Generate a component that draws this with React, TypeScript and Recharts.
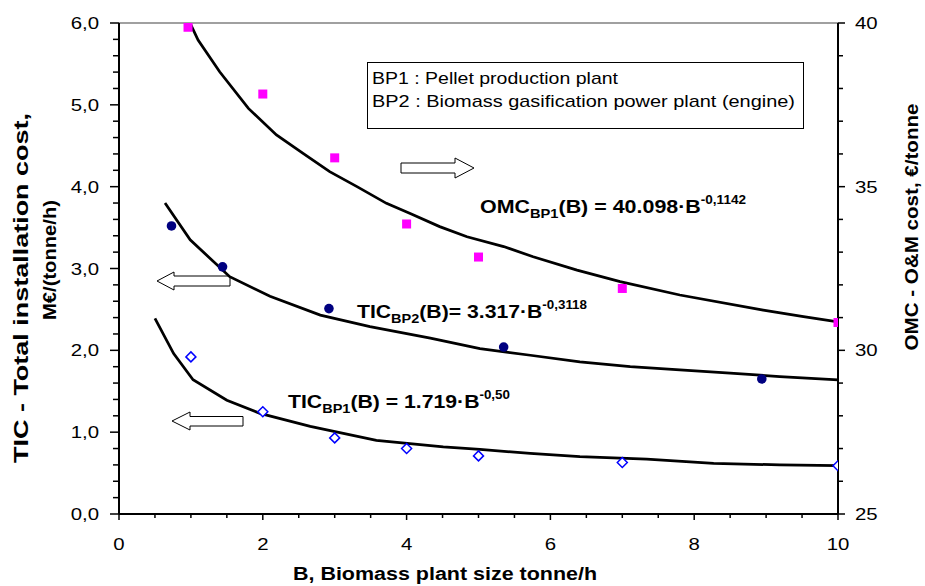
import React from "react";
import { ComposedChart, Line, Scatter, XAxis, YAxis, ReferenceLine } from "recharts";

// measured points (B in tonne/h)
const pelletSizes = [0.96, 2, 3, 4, 5, 7, 10];
const pelletOmc = [39.87, 37.83, 35.88, 33.86, 32.85, 31.89, 30.85];
const pelletTicSizes = [1, 2, 3, 4, 5, 7, 10];
const pelletTic = [1.92, 1.25, 0.93, 0.8, 0.71, 0.63, 0.59];
const gasifSizes = [0.73, 1.44, 2.92, 5.35, 8.94];
const gasifTic = [3.52, 3.02, 2.51, 2.04, 1.65];

// fitted curves
const omcFitB = [0.99, 1.1, 1.4, 1.8, 2.19, 2.56, 2.93, 3.31, 3.72, 4.05, 4.46, 4.84, 5.35, 5.76, 6.37, 6.97, 7.8, 8.96, 9.52, 10];
const omcFitV = [39.99, 39.48, 38.51, 37.39, 36.58, 36.02, 35.46, 35.0, 34.49, 34.18, 33.78, 33.47, 33.17, 32.86, 32.45, 32.1, 31.69, 31.23, 31.03, 30.87];
const gasifFitB = [0.64, 0.99, 1.54, 2.1, 2.8, 3.49, 4.33, 5.02, 5.72, 6.41, 7.11, 7.8, 8.5, 9.19, 10];
const gasifFitV = [3.8, 3.35, 2.9, 2.66, 2.43, 2.29, 2.15, 2.02, 1.94, 1.86, 1.8, 1.76, 1.72, 1.68, 1.64];
const pelletFitB = [0.5, 0.76, 1.03, 1.5, 1.96, 2.66, 3.58, 4.51, 5.02, 5.72, 6.41, 7.34, 8.27, 9.19, 10];
const pelletFitV = [2.39, 1.96, 1.64, 1.39, 1.23, 1.07, 0.9, 0.82, 0.79, 0.74, 0.7, 0.67, 0.62, 0.6, 0.59];

const xTicks = [0, 0.5, 1, 1.5, 2, 2.5, 3, 3.5, 4, 4.5, 5, 5.5, 6, 6.5, 7, 7.5, 8, 8.5, 9, 9.5, 10];
const leftTicks = [0, 0.2, 0.4, 0.6, 0.8, 1, 1.2, 1.4, 1.6, 1.8, 2, 2.2, 2.4, 2.6, 2.8, 3, 3.2, 3.4, 3.6, 3.8, 4, 4.2, 4.4, 4.6, 4.8, 5, 5.2, 5.4, 5.6, 5.8, 6];
const rightTicks = [25, 26, 27, 28, 29, 30, 31, 32, 33, 34, 35, 36, 37, 38, 39, 40];

const toPoints = (xs: number[], ys: number[]) => xs.map((x, i) => ({ x, y: ys[i] }));

const FONT = "'Liberation Sans', Arial, sans-serif";
const isMult = (v: number, m: number) => Math.abs(v / m - Math.round(v / m)) < 1e-6;

function XTick(props: any) {
  const { x, y, payload } = props;
  const v = payload.value;
  const major = isMult(v, 2);
  return (
    <g>
      <line x1={x} x2={x} y1={y} y2={y + (major ? 6 : 4)} stroke="#000" strokeWidth={1.5} />
      {major && (
        <text transform={`translate(${x},${y + 36}) scale(1.2,1)`} textAnchor="middle" fontFamily={FONT} fontSize={17} fill="#000">
          {v}
        </text>
      )}
    </g>
  );
}

function LeftTick(props: any) {
  const { x, y, payload } = props;
  const v = payload.value;
  const major = isMult(v, 1);
  return (
    <g>
      <line x1={x - (major ? 9 : 6)} x2={x} y1={y} y2={y} stroke="#000" strokeWidth={1.5} />
      {major && (
        <text transform={`translate(${x - 20},${y + 6}) scale(1.2,1)`} textAnchor="end" fontFamily={FONT} fontSize={17} fill="#000">
          {v.toFixed(1).replace(".", ",")}
        </text>
      )}
    </g>
  );
}

function RightTick(props: any) {
  const { x, y, payload } = props;
  const v = payload.value;
  const major = isMult(v, 5);
  return (
    <g>
      <line x1={x} x2={x + (major ? 7 : 5)} y1={y} y2={y} stroke="#000" strokeWidth={1.5} />
      {major && (
        <text transform={`translate(${x + 17},${y + 6}) scale(1.2,1)`} textAnchor="start" fontFamily={FONT} fontSize={17} fill="#000">
          {v}
        </text>
      )}
    </g>
  );
}

const squareShape = (p: any) => <rect x={p.cx - 4.5} y={p.cy - 4.5} width={9} height={9} fill="#FF00FF" />;
const circleShape = (p: any) => <circle cx={p.cx} cy={p.cy} r={4.8} fill="#000080" />;
const diamondShape = (p: any) => (
  <polygon
    points={`${p.cx},${p.cy - 5} ${p.cx + 5},${p.cy} ${p.cx},${p.cy + 5} ${p.cx - 5},${p.cy}`}
    fill="#fff"
    stroke="#0000FF"
    strokeWidth={1.5}
  />
);

function Annotations() {
  const bold = { fontFamily: FONT, fontWeight: 700, fill: "#000" } as const;
  const reg = { fontFamily: FONT, fill: "#000" } as const;
  return (
    <svg width={925} height={586} style={{ position: "absolute", left: 0, top: 0 }}>
      {/* legend box */}
      <rect x={367.5} y={62.5} width={436} height={66} fill="#fff" stroke="#000" strokeWidth={1} />
      <text x={372} y={84} fontSize={17} textLength={246} lengthAdjust="spacingAndGlyphs" {...reg}>
        BP1 : Pellet production plant
      </text>
      <text x={372} y={107} fontSize={17} textLength={423} lengthAdjust="spacingAndGlyphs" {...reg}>
        BP2 : Biomass gasification power plant (engine)
      </text>

      {/* arrows */}
      <polygon points="401,163 455,163 455,158 474,168 455,178 455,173 401,173" fill="#fff" stroke="#000" strokeWidth={1} />
      <polygon points="157,281 174,272 174,276 230,276 230,286 174,286 174,290" fill="#fff" stroke="#000" strokeWidth={1} />
      <polygon points="172,421 190,412 190,416.5 243,416.5 243,426 190,426 190,430" fill="#fff" stroke="#000" strokeWidth={1} />

      {/* equations */}
      <text x={480} y={213} fontSize={19} textLength={266} lengthAdjust="spacingAndGlyphs" {...bold}>
        OMC<tspan fontSize={13} dy={5}>BP1</tspan>
        <tspan dy={-5}>(B) = 40.098·B</tspan>
        <tspan fontSize={12} dy={-9}>-0,1142</tspan>
      </text>
      <text x={357} y={318} fontSize={19} textLength={230} lengthAdjust="spacingAndGlyphs" {...bold}>
        TIC<tspan fontSize={13} dy={5}>BP2</tspan>
        <tspan dy={-5}>(B)= 3.317·B</tspan>
        <tspan fontSize={12} dy={-9}>-0,3118</tspan>
      </text>
      <text x={288} y={408} fontSize={19} textLength={222} lengthAdjust="spacingAndGlyphs" {...bold}>
        TIC<tspan fontSize={13} dy={5}>BP1</tspan>
        <tspan dy={-5}>(B) = 1.719·B</tspan>
        <tspan fontSize={12} dy={-9}>-0,50</tspan>
      </text>

      {/* axis titles */}
      <text x={293} y={580} fontSize={18} textLength={304} lengthAdjust="spacingAndGlyphs" {...bold}>
        B, Biomass plant size tonne/h
      </text>
      <text transform="translate(28,288) rotate(-90)" textAnchor="middle" fontSize={20} textLength={350} lengthAdjust="spacingAndGlyphs" {...bold}>
        TIC - Total installation cost,
      </text>
      <text transform="translate(56,260) rotate(-90)" textAnchor="middle" fontSize={19} textLength={120} lengthAdjust="spacingAndGlyphs" {...bold}>
        M€/(tonne/h)
      </text>
      <text transform="translate(918,227) rotate(-90)" textAnchor="middle" fontSize={18} textLength={247} lengthAdjust="spacingAndGlyphs" {...bold}>
        OMC - O&amp;M cost,  €/tonne
      </text>
    </svg>
  );
}

export default function App() {
  return (
    <div style={{ position: "relative", width: 925, height: 586, background: "#fff" }}>
      <style>{"body{margin:0}"}</style>
      <Annotations />
      <div style={{ position: "absolute", left: 0, top: 0 }}>
        <ComposedChart width={925} height={586} margin={{ top: 23, right: 0, bottom: 0, left: 0 }}>
          <XAxis
            type="number"
            dataKey="x"
            domain={[0, 10]}
            ticks={xTicks}
            interval={0}
            height={72}
            tickSize={0}
            tickMargin={0}
            tickLine={false}
            axisLine={{ stroke: "#000", strokeWidth: 2 }}
            tick={<XTick />}
            allowDataOverflow
          />
          <YAxis
            yAxisId="left"
            type="number"
            domain={[0, 6]}
            ticks={leftTicks}
            interval={0}
            width={119}
            tickSize={0}
            tickMargin={0}
            tickLine={false}
            axisLine={{ stroke: "#000", strokeWidth: 2 }}
            tick={<LeftTick />}
            allowDataOverflow
          />
          <YAxis
            yAxisId="right"
            orientation="right"
            type="number"
            domain={[25, 40]}
            ticks={rightTicks}
            interval={0}
            width={87}
            tickSize={0}
            tickMargin={0}
            tickLine={false}
            axisLine={{ stroke: "#000", strokeWidth: 2 }}
            tick={<RightTick />}
            allowDataOverflow
          />
          <ReferenceLine yAxisId="left" y={6} stroke="#808080" strokeWidth={1.5} />
          <Scatter yAxisId="right" data={toPoints(pelletSizes, pelletOmc)} dataKey="y" shape={squareShape} isAnimationActive={false} />
          <Scatter yAxisId="left" data={toPoints(gasifSizes, gasifTic)} dataKey="y" shape={circleShape} isAnimationActive={false} />
          <Scatter yAxisId="left" data={toPoints(pelletTicSizes, pelletTic)} dataKey="y" shape={diamondShape} isAnimationActive={false} />
          <Line yAxisId="right" data={toPoints(omcFitB, omcFitV)} dataKey="y" type="linear" stroke="#000" strokeWidth={2.75} dot={false} activeDot={false} isAnimationActive={false} />
          <Line yAxisId="left" data={toPoints(gasifFitB, gasifFitV)} dataKey="y" type="linear" stroke="#000" strokeWidth={2.75} dot={false} activeDot={false} isAnimationActive={false} />
          <Line yAxisId="left" data={toPoints(pelletFitB, pelletFitV)} dataKey="y" type="linear" stroke="#000" strokeWidth={2.75} dot={false} activeDot={false} isAnimationActive={false} />
        </ComposedChart>
      </div>
    </div>
  );
}
